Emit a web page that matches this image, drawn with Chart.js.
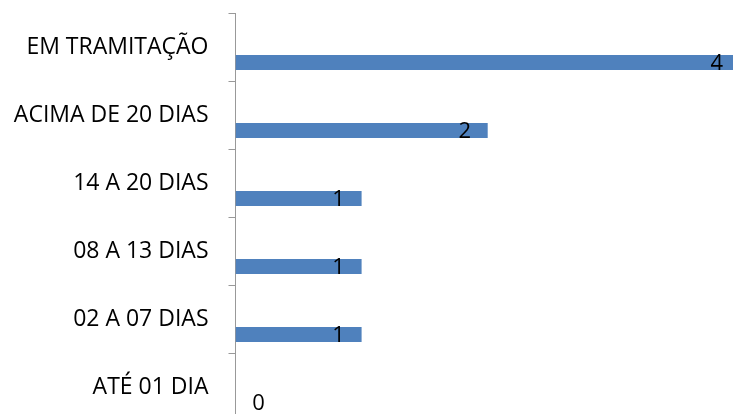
<!DOCTYPE html>
<html>
<head>
<meta charset="utf-8">
<script src="https://cdn.jsdelivr.net/npm/chart.js@4/dist/chart.umd.min.js"></script>
<style>
html, body { margin: 0; padding: 0; background: #fff; overflow: hidden; width: 733px; height: 414px; }
#wrap { position: relative; width: 866px; height: 426px; }
</style>
</head>
<body>
<div id="wrap"><canvas id="c" width="866" height="426"></canvas></div>
<script>
const categories = ['EM TRAMITAÇÃO', 'ACIMA DE 20 DIAS', '14 A 20 DIAS', '08 A 13 DIAS', '02 A 07 DIAS', 'ATÉ 01 DIA'];
const values = [4, 2, 1, 1, 1, 0];
const spacer = [null, null, null, null, null, null];

const FONT = '"Open Sans", sans-serif';

const valueLabels = {
  id: 'valueLabels',
  afterDatasetsDraw(chart) {
    const ctx = chart.ctx;
    const meta = chart.getDatasetMeta(1);
    const xs = chart.scales.x;
    ctx.save();
    ctx.font = '22px ' + FONT;
    ctx.fillStyle = '#000';
    ctx.textAlign = 'center';
    ctx.textBaseline = 'middle';
    meta.data.forEach((bar, i) => {
      const v = values[i];
      const end = xs.getPixelForValue(v);
      const base = xs.getPixelForValue(0);
      const x = v > 0 ? end - 23 : base + 23;
      ctx.fillText(String(v), x, bar.y + 1);
    });
    ctx.restore();
  }
};

new Chart(document.getElementById('c'), {
  type: 'bar',
  data: {
    labels: categories,
    datasets: [
      { data: spacer, backgroundColor: 'rgba(0,0,0,0)' },
      { data: values, backgroundColor: '#4F81BD', borderWidth: 0 }
    ]
  },
  options: {
    indexAxis: 'y',
    responsive: false,
    animation: false,
    events: [],
    categoryPercentage: 0.912,
    barPercentage: 0.484,
    layout: { padding: { top: 13, bottom: 5, left: 0, right: 0 } },
    plugins: { legend: { display: false }, tooltip: { enabled: false } },
    scales: {
      x: { display: false, min: 0, max: 5 },
      y: {
        offset: true,
        afterFit(scale) { scale.width = 235.5; scale.paddingTop = 0; scale.paddingBottom = 0; },
        grid: { offset: true, drawOnChartArea: false, drawTicks: true, tickLength: 7, color: '#999999', lineWidth: 1 },
        border: { display: true, color: '#999999', width: 1 },
        ticks: { color: '#000', padding: 20, font: { family: FONT, size: 23 } }
      }
    }
  },
  plugins: [valueLabels]
});
</script>
</body>
</html>
